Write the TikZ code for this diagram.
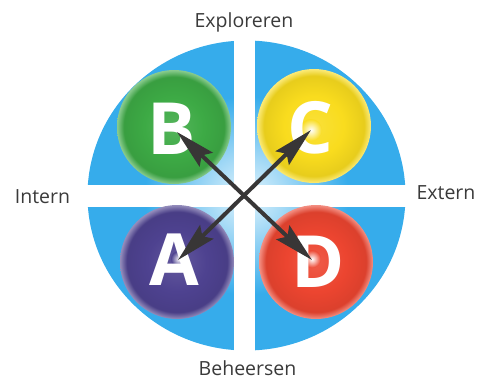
\documentclass[tikz,border=0pt]{standalone}
\usepackage{fontspec}
\setmainfont{Open Sans}
\usetikzlibrary{arrows.meta}

\definecolor{quadblue}{HTML}{36ACEB}
\definecolor{quadpale}{HTML}{E2F5FD}
\definecolor{ballgreen}{HTML}{3DAA45}
\definecolor{ballyellow}{HTML}{F9DC1E}
\definecolor{ballpurple}{HTML}{4E4290}
\definecolor{ballred}{HTML}{EC4530}
\definecolor{arrowgray}{HTML}{383636}
\definecolor{labelgray}{HTML}{3A3A3A}
\colorlet{ballcol}{ballgreen}

\pgfdeclareradialshading{quadshade}{\pgfpoint{0bp}{0bp}}{color(0bp)=(quadpale); color(6bp)=(quadblue!45!white); color(16bp)=(quadblue); color(25bp)=(quadblue); color(50bp)=(quadblue)}
\pgfdeclareradialshading[ballcol]{ballshade}{\pgfpoint{0bp}{0bp}}{color(0bp)=(ballcol!88!white); color(13bp)=(ballcol); color(22bp)=(ballcol!93!black); color(25bp)=(ballcol!60!white); color(50bp)=(ballcol!60!white)}

\tikzset{
  ball/.style={circle, minimum size=114pt, inner sep=0pt, shading=ballshade},
  glow/.style={circle, minimum size=22pt, inner sep=0pt, inner color=white, outer color=ballcol},
  letter/.style={text=white, font=\fontsize{72}{72}\selectfont\bfseries, inner sep=0pt},
  axislabel/.style={text=labelgray, font=\fontsize{19.5}{20}\selectfont, inner sep=0pt, anchor=base},
  link/.style={arrowgray, line width=4pt,
    {Stealth[length=40pt,width=19pt,inset=6pt]}-{Stealth[length=40pt,width=19pt,inset=6pt]}}
}

\begin{document}
\begin{tikzpicture}[x=1pt,y=-1pt]
  \useasboundingbox (0,0) rectangle (477,381);
  % disc cut into four quadrants
  \shade[shading=quadshade] (246.5,195.5) ellipse [x radius=159, y radius=155];
  \fill[white] (234,30) rectangle (255,360);
  \fill[white] (80,185) rectangle (415,207);

  % balls
  \colorlet{ballcol}{ballgreen}
  \node[ball] (ballB) at (174,127) {};
  \colorlet{ballcol}{ballyellow}
  \node[ball] (ballC) at (314,126) {};
  \node[glow] (glowC) at (311,130) {};
  \colorlet{ballcol}{ballpurple}
  \node[ball] (ballA) at (177,262) {};
  \node[glow, minimum size=16pt] (glowA) at (179,259) {};
  \colorlet{ballcol}{ballred}
  \node[ball] (ballD) at (316,262) {};
  \node[glow, minimum size=18pt] (glowD) at (312,259) {};

  % letters
  \node[letter] (letB) at (172,129) {B};
  \node[letter] (letC) at (310,128) {C};
  \node[letter] (letA) at (174,260) {A};
  \node[letter] (letD) at (318,262) {D};

  % arrows
  \coordinate (tipB) at (177,132);
  \coordinate (tipD) at (312,260);
  \coordinate (tipA) at (178,260);
  \coordinate (tipC) at (311,130);
  \draw[link] (tipB) -- (tipD);
  \draw[link] (tipA) -- (tipC);

  % axis labels
  \node[axislabel] (explore) at (244,27) {Exploreren};
  \node[axislabel] (manage) at (247.5,375) {Beheersen};
  \node[axislabel] (internal) at (42.5,203) {Intern};
  \node[axislabel] (external) at (446,199) {Extern};
\end{tikzpicture}
\end{document}
